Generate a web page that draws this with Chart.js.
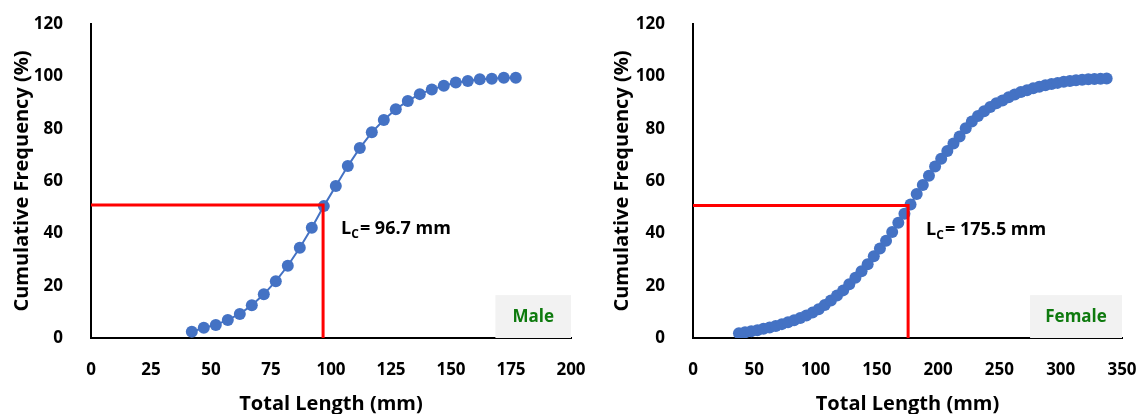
<!DOCTYPE html>
<html>
<head>
<meta charset="utf-8">
<script src="https://cdn.jsdelivr.net/npm/chart.js@4.4.1/dist/chart.umd.min.js"></script>
<style>
  html, body { margin:0; padding:0; background:#fff; }
  #wrap { position:relative; width:1142px; height:414px; }
  .box { position:absolute; top:0; height:414px; }
</style>
</head>
<body>
<div id="wrap">
  <div class="box" style="left:0;width:600px;"><canvas id="male"></canvas></div>
  <div class="box" style="left:600px;width:542px;"><canvas id="female"></canvas></div>
</div>
<script>
// ---- Data ----
const maleLength = [42,47,52,57,62,67,72,77,82,87,92,97,102,107,112,117,122,127,132,137,142,147,152,157,162,167,172,177];
const maleCumFreq = [2.4,3.9,5.0,6.9,9.2,12.5,16.7,21.7,27.6,34.5,42.1,50.4,58.1,65.7,72.6,78.6,83.3,87.4,90.6,93.2,95.0,96.4,97.6,98.2,98.9,99.1,99.5,99.5];

const femaleLength = [37.5,42.5,47.5,52.5,57.5,62.5,67.5,72.5,77.5,82.5,87.5,92.5,97.5,102.5,107.5,112.5,117.5,122.5,127.5,132.5,137.5,142.5,147.5,152.5,157.5,162.5,167.5,172.5,177.5,182.5,187.5,192.5,197.5,202.5,207.5,212.5,217.5,222.5,227.5,232.5,237.5,242.5,247.5,252.5,257.5,262.5,267.5,272.5,277.5,282.5,287.5,292.5,297.5,302.5,307.5,312.5,317.5,322.5,327.5,332.5,337.5];
const femaleCumFreq = [1.8,2.2,2.6,3.0,3.5,4.0,4.6,5.3,6.0,6.8,7.6,8.6,9.7,11.0,12.6,14.3,16.2,18.2,20.5,23.0,25.5,28.2,31.2,34.2,37.2,40.5,44.0,47.5,51.0,55.0,58.5,62.0,65.5,68.5,71.5,74.3,77.0,80.2,82.7,84.8,86.7,88.3,89.7,90.8,92.0,93.1,94.0,94.7,95.4,96.0,96.6,97.1,97.5,97.9,98.2,98.5,98.7,98.9,99.0,99.1,99.2];

const maleLc = 96.7, maleLcFreq = 50.8;
const femaleLc = 175.5, femaleLcFreq = 50.6;
const maleXTicks = {min:0, max:200, step:25};
const femaleXTicks = {min:0, max:350, step:50};
const yTicks = {min:0, max:120, step:20};
const maleLabelBox = {x0:168.5, x1:200, y0:0, y1:16.4};
const femaleLabelBox = {x0:275, x1:350, y0:0, y1:16.4};

const FONT = "'Open Sans', sans-serif";
const BLUE = '#4472C4';

function pts(xs, ys){ return xs.map((x,i)=>({x:x, y:ys[i]})); }

const annot = {
  id:'annot',
  beforeDatasetsDraw(chart, args, o){
    const {ctx, scales:{x,y}} = chart;
    ctx.save();
    ctx.fillStyle = '#F2F2F2';
    const b = o.box;
    ctx.fillRect(x.getPixelForValue(b.x0), y.getPixelForValue(b.y1),
                 x.getPixelForValue(b.x1)-x.getPixelForValue(b.x0),
                 y.getPixelForValue(b.y0)-y.getPixelForValue(b.y1));
    ctx.restore();
  },
  afterDatasetsDraw(chart, args, o){
    const {ctx, scales:{x,y}} = chart;
    ctx.save();
    const b = o.box;
    ctx.fillStyle = '#0E7A0E';
    ctx.font = "bold 17px " + FONT;
    ctx.textAlign = 'center';
    ctx.textBaseline = 'middle';
    ctx.fillText(o.label, (x.getPixelForValue(b.x0)+x.getPixelForValue(b.x1))/2,
                 (y.getPixelForValue(b.y0)+y.getPixelForValue(b.y1))/2 + 1);
    // Lc text
    let tx = x.getPixelForValue(o.lc) + 18;
    const ty = y.getPixelForValue(o.lcFreq) + 29;
    ctx.fillStyle = '#000';
    ctx.textAlign = 'left';
    ctx.textBaseline = 'alphabetic';
    ctx.font = "bold 18px " + FONT;
    ctx.fillText('L', tx, ty);
    tx += ctx.measureText('L').width;
    ctx.font = "bold 12px " + FONT;
    ctx.fillText('C', tx, ty + 4);
    tx += ctx.measureText('C').width + 1;
    ctx.font = "bold 18px " + FONT;
    ctx.fillText('= ' + o.lc.toFixed(1) + ' mm', tx, ty);
    ctx.restore();
  }
};

function noPad(s){ s.paddingLeft = 0; s.paddingRight = 0; s.paddingTop = 0; s.paddingBottom = 0; }

function makeChart(id, xs, ys, lc, lcFreq, xt, box, label, yWidth, padRight){
  return new Chart(document.getElementById(id), {
    type:'scatter',
    data:{ datasets:[
      { data: pts([0, lc, lc], [lcFreq, lcFreq, 0]), showLine:true, borderColor:'#FF0000',
        borderWidth:3, pointRadius:0, order:0, tension:0 },
      { data: pts(xs, ys), showLine:true, borderColor:BLUE, backgroundColor:BLUE,
        borderWidth:2, pointRadius:6, pointBorderWidth:0, order:1, tension:0 }
    ]},
    options:{
      responsive:true, maintainAspectRatio:false, animation:false,
      layout:{ padding:{ top:24, right:padRight, left:0, bottom:0 } },
      plugins:{ legend:{display:false}, tooltip:{enabled:false},
        annot:{ lc:lc, lcFreq:lcFreq, box:box, label:label } },
      scales:{
        x:{ type:'linear', min:xt.min, max:xt.max,
            ticks:{ stepSize:xt.step, color:'#000', font:{family:FONT, size:17, weight:'bold'}, padding:14, maxRotation:0 },
            grid:{ display:false },
            border:{ display:true, color:'#000', width:2 },
            title:{ display:true, text:'Total Length (mm)', color:'#000',
                    font:{family:FONT, size:20, weight:'bold', lineHeight:1.0}, padding:{top:8, bottom:0} },
            afterFit(s){ s.height = 76; noPad(s); } },
        y:{ min:yTicks.min, max:yTicks.max,
            ticks:{ stepSize:yTicks.step, color:'#000', font:{family:FONT, size:17, weight:'bold'}, padding:20 },
            grid:{ display:false },
            border:{ display:true, color:'#000', width:2 },
            title:{ display:true, text:'Cumulative Frequency (%)', color:'#000',
                    font:{family:FONT, size:20, weight:'bold'}, padding:{top:10, bottom:0} },
            afterFit(s){ s.width = yWidth; noPad(s); } }
      }
    },
    plugins:[annot]
  });
}

makeChart('male', maleLength, maleCumFreq, maleLc, maleLcFreq, maleXTicks, maleLabelBox, 'Male', 91, 29);
makeChart('female', femaleLength, femaleCumFreq, femaleLc, femaleLcFreq, femaleXTicks, femaleLabelBox, 'Female', 93, 20);
</script>
</body>
</html>
